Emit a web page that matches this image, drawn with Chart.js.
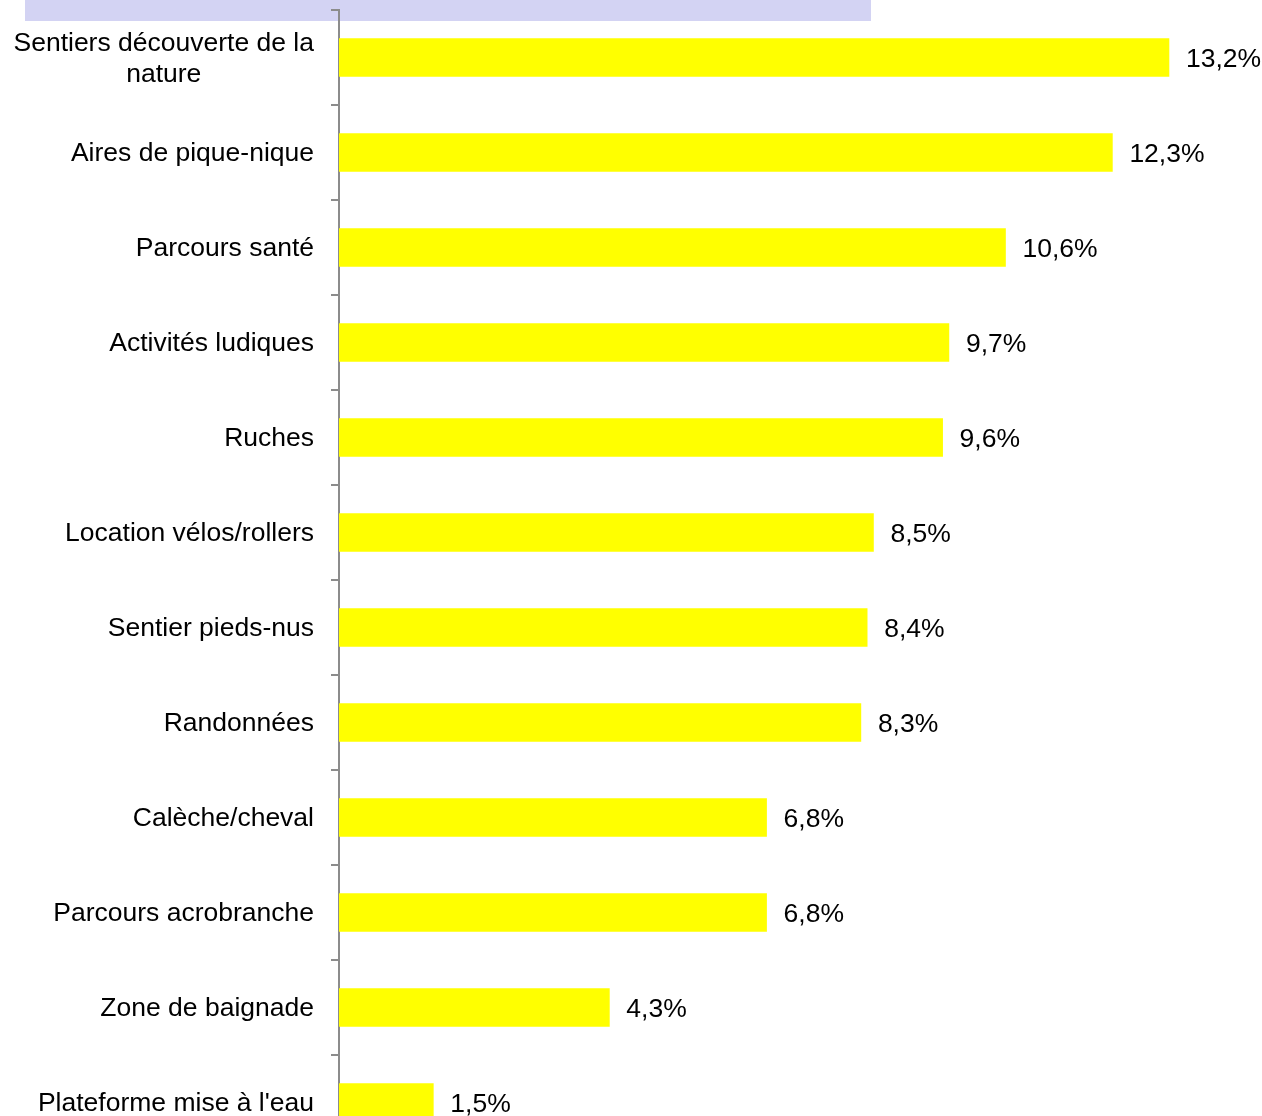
<!DOCTYPE html>
<html>
<head>
<meta charset="utf-8">
<script src="https://cdn.jsdelivr.net/npm/chart.js@4"></script>
<style>
  html, body { margin: 0; padding: 0; background: #fff; overflow: hidden; }
  #wrap { position: absolute; left: 0; top: 0; width: 1262px; height: 1160px; }
</style>
</head>
<body>
<div id="wrap"><canvas id="activitesGraph"></canvas></div>
<script>
// categories and values (%)
const categories = [
  ['Sentiers découverte de la', 'nature'],
  'Aires de pique-nique',
  'Parcours santé',
  'Activités ludiques',
  'Ruches',
  'Location vélos/rollers',
  'Sentier pieds-nus',
  'Randonnées',
  'Calèche/cheval',
  'Parcours acrobranche',
  'Zone de baignade',
  "Plateforme mise à l'eau"
];
const values = [13.2, 12.3, 10.6, 9.7, 9.6, 8.5, 8.4, 8.3, 6.8, 6.8, 4.3, 1.5];

const FONT = '26.5px "Liberation Sans", Arial, sans-serif';

// lavender title box (title text clipped at top of the picture)
const titleBox = {
  id: 'titleBox',
  beforeDraw(chart) {
    const ctx = chart.ctx;
    ctx.save();
    ctx.fillStyle = '#d3d3f3';
    ctx.fillRect(25, 0, 846, 21);
    ctx.restore();
  }
};

// category labels, right aligned, multi-line blocks centered
const catLabels = {
  id: 'catLabels',
  afterDraw(chart) {
    const ctx = chart.ctx;
    const y = chart.scales.y;
    const xr = chart.chartArea.left - 25;
    ctx.save();
    ctx.font = FONT;
    ctx.fillStyle = '#000';
    ctx.textBaseline = 'middle';
    categories.forEach((c, i) => {
      const yc = y.getPixelForValue(i) + 1.5;
      if (Array.isArray(c)) {
        const w = Math.max(...c.map(s => ctx.measureText(s).width));
        const cx = xr - w / 2;
        ctx.textAlign = 'center';
        const lh = 31;
        c.forEach((s, j) => {
          ctx.fillText(s, cx, yc + (j - (c.length - 1) / 2) * lh);
        });
      } else {
        ctx.textAlign = 'right';
        ctx.fillText(c, xr, yc);
      }
    });
    ctx.restore();
  }
};

// value labels after each bar
const valueLabels = {
  id: 'valueLabels',
  afterDatasetsDraw(chart) {
    const ctx = chart.ctx;
    const meta = chart.getDatasetMeta(0);
    ctx.save();
    ctx.font = FONT;
    ctx.fillStyle = '#000';
    ctx.textAlign = 'left';
    ctx.textBaseline = 'middle';
    meta.data.forEach((bar, i) => {
      const txt = values[i].toFixed(1).replace('.', ',') + '%';
      ctx.fillText(txt, bar.x + 17, bar.y + 2);
    });
    ctx.restore();
  }
};

const ctxAct = document.getElementById('activitesGraph');

new Chart(ctxAct, {
  type: 'bar',
  data: {
    labels: categories,
    datasets: [{
      data: values,
      backgroundColor: '#ffff00',
      borderWidth: 0,
      barThickness: 38
    }]
  },
  options: {
    indexAxis: 'y',
    responsive: true,
    maintainAspectRatio: false,
    animation: false,
    layout: { padding: { top: 10, bottom: 10, right: 5, left: 0 } },
    plugins: {
      legend: { display: false },
      tooltip: { enabled: false }
    },
    scales: {
      x: {
        display: false,
        min: 0,
        max: 14.6
      },
      y: {
        afterFit(scale) { scale.width = 339; },
        ticks: { display: false },
        border: { display: true, color: '#8c8c8c', width: 2 },
        grid: {
          display: true,
          offset: true,
          drawOnChartArea: false,
          drawTicks: true,
          tickLength: 8,
          color: '#8c8c8c',
          lineWidth: 2
        }
      }
    }
  },
  plugins: [titleBox, catLabels, valueLabels]
});
</script>
</body>
</html>
